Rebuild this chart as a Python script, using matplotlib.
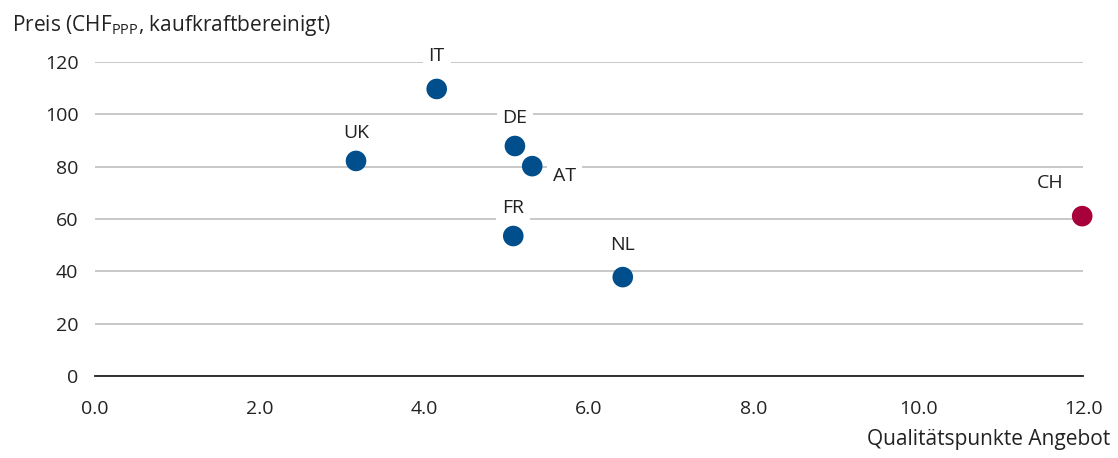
import matplotlib
matplotlib.use("Agg")
import matplotlib.pyplot as plt

plt.rcParams['font.family'] = ['Open Sans', 'DejaVu Sans']
plt.rcParams['mathtext.fontset'] = 'custom'
plt.rcParams['mathtext.rm'] = 'Open Sans'

# Länder: Qualitätspunkte und Preis (CHF PPP)
laender = ['IT', 'UK', 'DE', 'AT', 'FR', 'NL', 'CH']
qualitaet = [4.15, 3.17, 5.10, 5.31, 5.08, 6.41, 11.99]
preis = [109.7, 82.2, 87.9, 80.2, 53.5, 37.8, 61.1]
# Beschriftungs-Versatz in Punkten
versatz = [(0, 24), (0, 20), (0, 20), (23, -7), (0, 20), (0, 23), (-23, 24)]

blau = '#004f8c'
rot = '#a8003b'
fs = 14

fig = plt.figure(figsize=(11.18, 4.58), dpi=100)
ax = fig.add_axes([0.085, 0.179, 0.8837, 0.6856])

farben = [rot if l == 'CH' else blau for l in laender]
ax.scatter(qualitaet, preis, s=220, c=farben, zorder=3, clip_on=False, linewidths=0)

for l, x, y, (dx, dy) in zip(laender, qualitaet, preis, versatz):
    ax.annotate(l, (x, y), xytext=(dx, dy), textcoords='offset points',
                ha='center', va='center', fontsize=fs, color='#222222',
                bbox=dict(boxstyle='square,pad=0.3', fc='white', ec='none'),
                zorder=4, annotation_clip=False)

ax.set_xlim(0, 12)
ax.set_ylim(0, 120)
ax.set_xticks([0, 2, 4, 6, 8, 10, 12])
ax.set_xticklabels(['0.0', '2.0', '4.0', '6.0', '8.0', '10.0', '12.0'])
ax.set_yticks(range(0, 121, 20))
ax.tick_params(length=0, labelsize=fs, colors='#222222')
ax.tick_params(axis='x', pad=17)
ax.tick_params(axis='y', pad=12)
ax.grid(axis='y', color='#bfbfbf', linewidth=1.2)
ax.set_axisbelow(True)
for s in ['top', 'right', 'left']:
    ax.spines[s].set_visible(False)
ax.spines['bottom'].set_color('#222222')
ax.spines['bottom'].set_linewidth(1.3)

fig.text(0.011, 0.945, r'Preis (CHF$_{\mathregular{PPP}}$, kaufkraftbereinigt)',
         fontsize=15, color='#222222', va='center')
fig.text(0.993, 0.04, 'Qualitätspunkte Angebot', fontsize=15,
         color='#222222', ha='right', va='center')

fig.savefig('out.png', dpi=100)
